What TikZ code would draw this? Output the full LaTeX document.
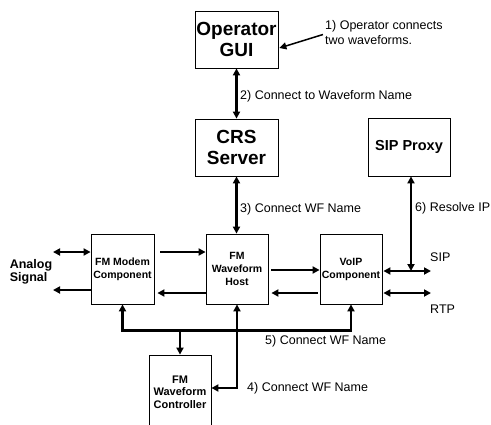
\documentclass[tikz,border=0pt]{standalone}
\usepackage{fontspec}
\setmainfont{Liberation Sans}
\usetikzlibrary{arrows.meta}

\begin{document}
\begin{tikzpicture}[x=1pt,y=-1pt,
   block/.style={draw,line width=0.8pt,align=center,inner sep=0pt},
   bigblock/.style={block,minimum width=83pt,minimum height=57pt,
      font=\fontsize{19}{21}\selectfont\bfseries},
   smallblock/.style={block,minimum width=62pt,minimum height=70pt,
      font=\fontsize{10.5}{13}\selectfont\bfseries},
   link/.style={line width=2.2pt,-{Triangle[length=7pt,width=7pt]}},
   dlink/.style={link,{Triangle[length=7pt,width=7pt]}-{Triangle[length=7pt,width=7pt]}},
   lbl/.style={anchor=west,align=left,inner sep=0pt,font=\fontsize{12.5}{15}\selectfont}]
\clip (0,0) rectangle (491,424);
\node[bigblock] (gui) at (236.5,39.5) {Operator\\GUI};
\node[bigblock] (crs) at (236.5,147.5) {CRS\\Server};
\node[bigblock,minimum width=82pt,minimum height=58pt,
   font=\fontsize{14.5}{17}\selectfont\bfseries] (proxy) at (409,147) {SIP Proxy};
\node[smallblock,minimum width=63pt] (modem) at (122.5,269) {FM Modem\\Component};
\node[smallblock] (host) at (237,269) {FM\\Waveform\\Host};
\node[smallblock] (voip) at (351,269) {VoIP\\Component};
\node[smallblock,minimum height=74pt,font=\fontsize{11}{12.5}\selectfont\bfseries]
   (ctrl) at (180,392) {FM\\Waveform\\Controller};
\node[lbl] (note) at (325,32.5) {1) Operator connects\\two waveforms.};
\node[lbl] (l2) at (240,96) {2) Connect to Waveform Name};
\node[lbl] (l3) at (240,209) {3) Connect WF Name};
\node[lbl] (l6) at (415,208) {6) Resolve IP};
\node[lbl] (l5) at (265,341) {5) Connect WF Name};
\node[lbl] (l4) at (247,388) {4) Connect WF Name};
\node[lbl] (sip) at (430,257) {SIP};
\node[lbl] (rtp) at (430,309) {RTP};
\node[inner sep=0pt,align=left,font=\fontsize{12.5}{13}\selectfont\bfseries]
   (analog) at (31,272) {Analog\\Signal};
\coordinate (sipj) at (411,271);
\coordinate (sipend) at (431,271);
\coordinate (rtpend) at (431,293);
\coordinate (ain) at (53,252);
\coordinate (aout) at (53,290);
\coordinate (bus) at (180,330);
\draw[link,line width=1.5pt] ([xshift=-2pt,yshift=-2pt]note.west) -- ([xshift=1pt,yshift=-8.5pt]gui.east);
\draw[dlink] (gui) -- (crs);
\draw[dlink] (crs.south) -- (crs.south |- host.north);
\draw[dlink] (proxy.south -| sipj) -- (sipj);
\draw[dlink] ([xshift=1pt,yshift=-2pt]voip.east) -- (sipend);
\draw[dlink] ([xshift=1pt,yshift=-24pt]voip.east) -- (rtpend);
\draw[dlink] (ain) -- ([yshift=17pt]modem.west);
\draw[link] ([yshift=-21pt]modem.west) -- (aout);
\draw[link] ([xshift=6pt,yshift=17pt]modem.east) -- ([yshift=17pt]host.west);
\draw[link] ([yshift=-24pt]host.west) -- ([xshift=3pt,yshift=-24pt]modem.east);
\draw[link] ([xshift=3pt,yshift=-1pt]host.east) -- ([yshift=-1pt]voip.west);
\draw[link] ([xshift=-2pt,yshift=-24pt]voip.west) -- ([xshift=3pt,yshift=-24pt]host.east);
\draw[dlink] (modem.south) -- ++(0,26) -| (voip.south);
\draw[link] (bus) -- (ctrl.north);
\draw[dlink] (host.south) |- ([yshift=4pt]ctrl.east);
\end{tikzpicture}
\end{document}
